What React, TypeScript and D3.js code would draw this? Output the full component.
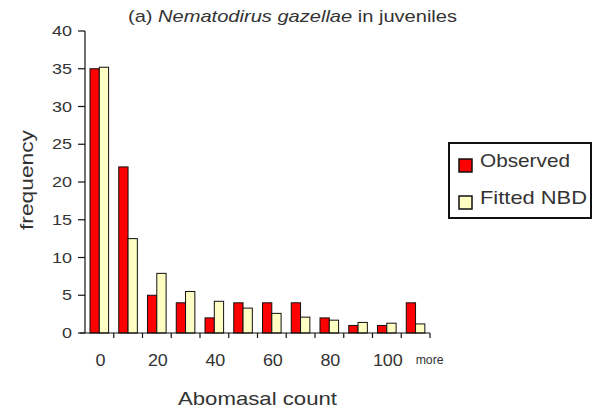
import React from 'react';
import * as d3 from 'd3';

const categories = ['0', '10', '20', '30', '40', '50', '60', '70', '80', '90', '100', 'more'];
const observed = [35, 22, 5, 4, 2, 4, 4, 4, 2, 1, 1, 4];
const fitted = [35.2, 12.5, 7.9, 5.5, 4.2, 3.3, 2.6, 2.1, 1.7, 1.4, 1.3, 1.2];
const yTicks = [0, 5, 10, 15, 20, 25, 30, 35, 40];
const xLabels = ['0', '20', '40', '60', '80', '100', 'more'];
const seriesNames = ['Observed', 'Fitted NBD'];
const seriesColors = ['#ff0000', '#ffffc4'];

const FONT = 'Liberation Sans, Arial, sans-serif';
const TEXT = '#333';

// the source picture is stretched sideways, so text widths are fixed by hand
const stretch = (len: number) => ({ textLength: len, lengthAdjust: 'spacingAndGlyphs' as const });

const App = () => {
  const W = 595;
  const H = 411;
  const left = 85;
  const right = 430;
  const top = 31;
  const bottom = 333;

  const x = d3.scaleBand().domain(categories).range([left, right]).padding(0);
  const xi = d3.scaleBand().domain(seriesNames).range([5, 23.6]).padding(0);
  const y = d3.scaleLinear().domain([0, 40]).range([bottom, top]);

  const series = [observed, fitted];
  const bw = x.bandwidth();
  const legendWidths = [90, 107];

  return (
    <svg width={W} height={H} style={{ position: 'absolute', left: 0, top: 0, background: '#fff' }}>
      <rect width={W} height={H} fill="#fff" />
      {/* title */}
      <text x={128} y={22} fontFamily={FONT} fontSize={17} fill={TEXT} {...stretch(329)}>
        (a) <tspan fontStyle="italic">Nematodirus gazellae</tspan> in juveniles
      </text>

      {/* bars */}
      {series.map((vals, si) => (
        <g key={si}>
          {vals.map((v, i) => (
            <rect
              key={i}
              x={(x(categories[i]) as number) + (xi(seriesNames[si]) as number)}
              y={y(v)}
              width={xi.bandwidth()}
              height={bottom - y(v)}
              fill={seriesColors[si]}
              stroke="#111"
              strokeWidth={1}
            />
          ))}
        </g>
      ))}

      {/* y axis */}
      <line x1={left} x2={left} y1={top} y2={bottom} stroke="#111" strokeWidth={1.2} />
      {yTicks.map(t => (
        <g key={t}>
          <line x1={left - 7} x2={left} y1={y(t)} y2={y(t)} stroke="#111" strokeWidth={1.2} />
          <text
            x={72}
            y={y(t) + 5}
            fontFamily={FONT}
            fontSize={14}
            fill={TEXT}
            textAnchor="end"
            {...stretch(String(t).length * 10)}
          >
            {t}
          </text>
        </g>
      ))}
      <text
        transform={`translate(33,180) rotate(-90)`}
        fontFamily={FONT}
        fontSize={18}
        fill={TEXT}
        textAnchor="middle"
        {...stretch(100)}
      >
        frequency
      </text>

      {/* x axis */}
      <line x1={left - 5} x2={right} y1={bottom} y2={bottom} stroke="#111" strokeWidth={1.2} />
      {categories.map(c => (
        <line
          key={c}
          x1={(x(c) as number) + bw}
          x2={(x(c) as number) + bw}
          y1={bottom}
          y2={bottom + 5}
          stroke="#111"
          strokeWidth={1.2}
        />
      ))}
      {xLabels.map(l => {
        const more = l === 'more';
        return (
          <text
            key={l}
            x={(x(l) as number) + bw / 2 + (more ? 14 : 1)}
            y={more ? 364 : 366}
            fontFamily={FONT}
            fontSize={more ? 13 : 17}
            fill={TEXT}
            textAnchor="middle"
            {...stretch(more ? 28 : l.length * 10)}
          >
            {l}
          </text>
        );
      })}
      <text x={178} y={405} fontFamily={FONT} fontSize={19} fill={TEXT} {...stretch(159)}>
        Abomasal count
      </text>

      {/* legend */}
      <rect x={449} y={143} width={142} height={75} fill="#fff" stroke="#111" strokeWidth={2} />
      {seriesNames.map((n, i) => (
        <g key={n} transform={`translate(459,${159 + i * 37})`}>
          <rect width={13} height={13} fill={seriesColors[i]} stroke="#111" strokeWidth={1.5} />
          <text x={21} y={8} fontFamily={FONT} fontSize={19} fill={TEXT} {...stretch(legendWidths[i])}>
            {n}
          </text>
        </g>
      ))}
    </svg>
  );
};

export default App;
